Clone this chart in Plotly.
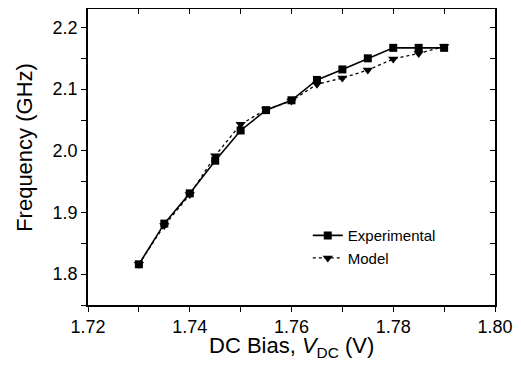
import plotly.graph_objects as go

bias_v = [1.73, 1.735, 1.74, 1.745, 1.75, 1.755, 1.76, 1.765, 1.77, 1.775, 1.78, 1.785, 1.79]
freq_experimental = [1.816, 1.882, 1.931, 1.984, 2.033, 2.066, 2.082, 2.115, 2.132, 2.150, 2.167, 2.167, 2.167]
freq_model = [1.816, 1.879, 1.929, 1.992, 2.043, 2.067, 2.081, 2.108, 2.118, 2.131, 2.149, 2.158, 2.169]

x_range = [1.72, 1.80]
y_range = [1.75, 2.23]
x_title = "DC Bias, <i>V</i><sub>DC</sub> (V)"
y_title = "Frequency (GHz)"

font_family = "Liberation Sans, Arial, sans-serif"

fig = go.Figure()
fig.add_trace(go.Scatter(
    x=bias_v, y=freq_experimental, name="Experimental", mode="lines+markers",
    line=dict(color="black", width=1.6),
    marker=dict(symbol="square", size=8, color="black"),
))
fig.add_trace(go.Scatter(
    x=bias_v, y=freq_model, name="Model", mode="lines+markers",
    line=dict(color="black", width=1.3, dash="3px,3px"),
    marker=dict(symbol="triangle-down", size=9, color="black"),
))
# invisible helper trace to create the mirrored (top/right) axes
fig.add_trace(go.Scatter(x=bias_v[:1], y=freq_model[:1], xaxis="x2", yaxis="y2",
                         mode="markers", marker=dict(opacity=0),
                         showlegend=False, hoverinfo="skip"))

common = dict(showgrid=False, zeroline=False, linecolor="black", linewidth=1.5,
              tickcolor="black", tickwidth=1.2, ticklen=5, automargin=False)

fig.update_layout(
    width=513, height=359,
    margin=dict(l=80, r=26, t=1, b=62),
    paper_bgcolor="white", plot_bgcolor="white",
    font=dict(family=font_family, color="black"),
    xaxis=dict(range=x_range, dtick=0.02, tickformat=".2f", ticks="outside",
               minor=dict(dtick=0.01, ticks="outside", ticklen=5, tickcolor="black", tickwidth=1.2),
               tickfont=dict(size=18), showline=True,
               **common),
    yaxis=dict(range=y_range, dtick=0.1, tickformat=".1f", ticks="outside",
               minor=dict(dtick=0.05, ticks="outside", ticklen=5, tickcolor="black", tickwidth=1.2),
               tickfont=dict(size=18), showline=True,
               **common),
    xaxis2=dict(range=x_range, dtick=0.02, overlaying="x", side="top", anchor="y2",
                ticks="inside", showticklabels=False, showline=True,
                minor=dict(dtick=0.01, ticks="inside", ticklen=5, tickcolor="black", tickwidth=1.2),
                **common),
    yaxis2=dict(range=y_range, dtick=0.1, overlaying="y", side="right", anchor="x2",
                ticks="inside", showticklabels=False, showline=True,
                minor=dict(dtick=0.05, ticks="inside", ticklen=5, tickcolor="black", tickwidth=1.2),
                **common),
    legend=dict(x=0.54, y=0.29, xanchor="left", yanchor="top",
                bgcolor="rgba(0,0,0,0)", font=dict(size=15),
                itemwidth=30, tracegroupgap=0),
    showlegend=True,
    annotations=[
        dict(text=x_title, xref="paper", yref="paper", x=0.5, y=-0.143,
             xanchor="center", yanchor="middle", showarrow=False,
             font=dict(size=22)),
        dict(text=y_title, xref="paper", yref="paper", x=-0.155, y=0.534,
             xanchor="center", yanchor="middle", showarrow=False, textangle=-90,
             font=dict(size=22)),
    ],
)

fig.write_html("out.html")
